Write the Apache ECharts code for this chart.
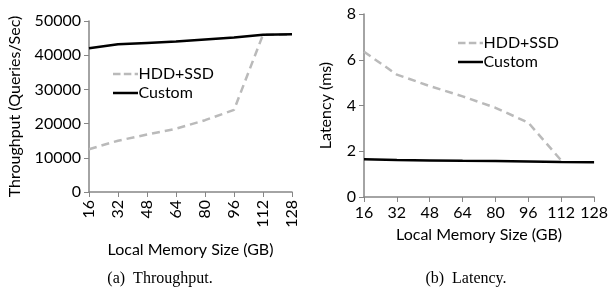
<!DOCTYPE html>
<html>
<head>
<meta charset="utf-8">
<script src="https://cdn.jsdelivr.net/npm/echarts@6/dist/echarts.min.js"></script>
<style>
  html, body { margin: 0; padding: 0; background: #fff; }
  #chart { width: 611px; height: 287px; }
</style>
</head>
<body>
<div id="chart"></div>
<script>
const memSizes = ["16", "32", "48", "64", "80", "96", "112", "128"];
const tputHddSsd = [12500, 15000, 16800, 18500, 21000, 24000, 46000, 46000];
const tputCustom = [42000, 43200, 43600, 44000, 44600, 45200, 46000, 46100];
const latHddSsd = [6.35, 5.35, 4.85, 4.4, 3.9, 3.25, 1.6, null];
const latCustom = [1.65, 1.62, 1.6, 1.58, 1.57, 1.55, 1.53, 1.52];

const font = "Lato";
const axisGray = "#868686";
const dashGray = "#bababa";

// legend samples: a short dashed stroke and a solid one
const dashIcon = "path://M0,0h9v3h-9z M13,0h9v3h-9z M26,0h4v3h-4z";
const solidIcon = "path://M0,0h30v3h-30z";

const chart = echarts.init(document.getElementById("chart"));

function xAxisCfg(gridIndex, rotate, nameGap) {
  return {
    gridIndex: gridIndex,
    type: "category",
    data: memSizes,
    boundaryGap: false,
    name: "Local Memory Size (GB)",
    nameLocation: "middle",
    nameGap: nameGap,
    nameTextStyle: { fontFamily: font, fontSize: 16, color: "#000" },
    axisLine: { lineStyle: { color: axisGray, width: 1.5 } },
    axisTick: { show: true, length: 5, lineStyle: { color: axisGray } },
    axisLabel: { rotate: rotate, fontFamily: font, fontSize: 16, color: "#000", margin: 8, interval: 0 },
    splitLine: { show: false }
  };
}

function yAxisCfg(gridIndex, name, max, interval, nameGap) {
  return {
    gridIndex: gridIndex,
    type: "value",
    min: 0,
    max: max,
    interval: interval,
    name: name,
    nameLocation: "middle",
    nameGap: nameGap,
    nameTextStyle: { fontFamily: font, fontSize: 16, color: "#000" },
    axisLine: { show: true, lineStyle: { color: axisGray, width: 1.5 } },
    axisTick: { show: true, length: 5, lineStyle: { color: axisGray } },
    axisLabel: { fontFamily: font, fontSize: 16, color: "#000", margin: 8, formatter: (v) => String(v) },
    splitLine: { show: false }
  };
}

function legendCfg(left, top) {
  return {
    left: left,
    top: top,
    orient: "vertical",
    itemGap: 3,
    itemWidth: 26,
    itemHeight: 2.5,
    data: [
      { name: "HDD+SSD", icon: dashIcon },
      { name: "Custom", icon: solidIcon }
    ],
    textStyle: { fontFamily: font, fontSize: 16, color: "#000", padding: [0, 0, 0, -5] }
  };
}

const captionStyle = { fontFamily: "Liberation Serif", fontSize: 16, fontWeight: "normal", color: "#000" };

const option = {
  animation: false,
  title: [
    { text: "(a)  Throughput.", left: 155, top: 266, textAlign: "center", textStyle: captionStyle },
    { text: "(b)  Latency.", left: 461, top: 266, textAlign: "center", textStyle: captionStyle }
  ],
  legend: [legendCfg(108, 61), legendCfg(453, 30)],
  grid: [
    { left: 89, top: 21, width: 203, height: 171 },
    { left: 364, top: 14, width: 232, height: 183 }
  ],
  xAxis: [xAxisCfg(0, 90, 50), xAxisCfg(1, 0, 30)],
  yAxis: [
    yAxisCfg(0, "Throughput (Queries/Sec)", 50000, 10000, 66),
    yAxisCfg(1, "Latency (ms)", 8, 2, 30)
  ],
  series: [
    { name: "HDD+SSD", type: "line", xAxisIndex: 0, yAxisIndex: 0, data: tputHddSsd,
      showSymbol: false, symbol: "none",
      lineStyle: { color: dashGray, width: 2.5, type: [8, 5] }, itemStyle: { color: dashGray } },
    { name: "Custom", type: "line", xAxisIndex: 0, yAxisIndex: 0, data: tputCustom,
      showSymbol: false, symbol: "none",
      lineStyle: { color: "#000", width: 2.5 }, itemStyle: { color: "#000" } },
    { name: "HDD+SSD", type: "line", xAxisIndex: 1, yAxisIndex: 1, data: latHddSsd,
      showSymbol: false, symbol: "none",
      lineStyle: { color: dashGray, width: 2.5, type: [8, 5] }, itemStyle: { color: dashGray } },
    { name: "Custom", type: "line", xAxisIndex: 1, yAxisIndex: 1, data: latCustom,
      showSymbol: false, symbol: "none",
      lineStyle: { color: "#000", width: 2.5 }, itemStyle: { color: "#000" } }
  ]
};

chart.setOption(option);
</script>
</body>
</html>
